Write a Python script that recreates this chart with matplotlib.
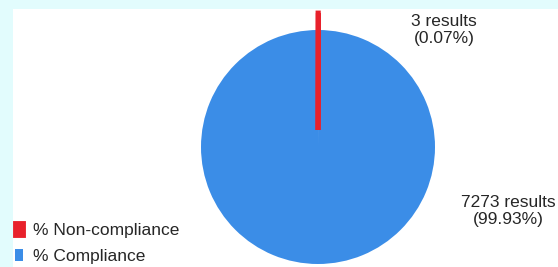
import matplotlib
matplotlib.use('Agg')
import matplotlib.pyplot as plt
from matplotlib.patches import Rectangle

labels = ['% Non-compliance', '% Compliance']
counts = [3, 7273]
percents = ['0.07%', '99.93%']
colors = ['#e8212b', '#3b8de7']

plt.rcParams['font.family'] = ['Liberation Sans', 'DejaVu Sans']

fig = plt.figure(figsize=(5.58, 2.67), dpi=100)
fig.patch.set_facecolor('#e2fcfd')

# work in pixel-like coordinates so the pie sits where it should
ax = fig.add_axes([0, 0, 1, 1])
ax.add_patch(Rectangle((13, 0), 545, 258, facecolor='white', edgecolor='none', zorder=0))

# explode is in data units here (not scaled by radius)
wedges, _ = ax.pie(counts, colors=colors, startangle=90, counterclock=False,
                   center=(318, 120), radius=117, explode=[17, 0],
                   wedgeprops=dict(linewidth=0))
wedges[0].set_edgecolor(colors[0])
wedges[0].set_linewidth(3.5)
wedges[0].set_zorder(3)
wedges[1].set_zorder(2)
ax.set_xlim(0, 558)
ax.set_ylim(0, 267)
ax.set_aspect('auto')
ax.axis('off')

ax.text(444, 237, f'{counts[0]} results\n({percents[0]})', ha='center', va='center',
        fontsize=12.5, linespacing=1.1, color='#262626')
ax.text(508, 56, f'{counts[1]} results\n({percents[1]})', ha='center', va='center',
        fontsize=12.5, linespacing=1.1, color='#262626')

leg = ax.legend(wedges, labels, loc='lower left', bbox_to_anchor=(15 / 558, 3 / 267),
                bbox_transform=fig.transFigure, frameon=False, fontsize=12.5,
                borderpad=0, borderaxespad=0,
                handlelength=0.45, handleheight=0.75, handletextpad=0.6,
                labelspacing=0.6)
for t in leg.get_texts():
    t.set_color('#262626')

fig.savefig('out.png', dpi=100, facecolor=fig.get_facecolor())
